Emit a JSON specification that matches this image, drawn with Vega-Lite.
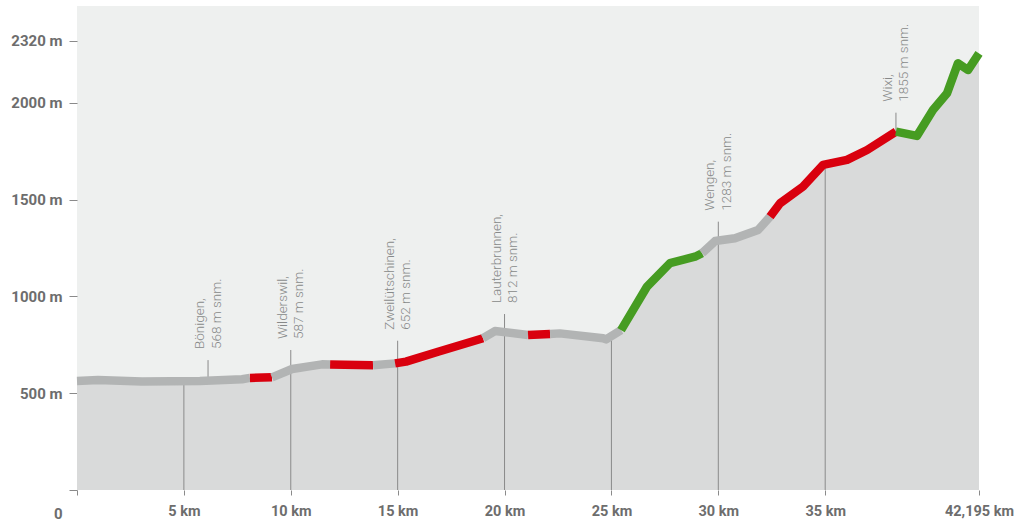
{
  "$schema": "https://vega.github.io/schema/vega-lite/v6.json",
  "width": 902,
  "height": 484,
  "autosize": {"type": "none"},
  "padding": {"left": 77, "top": 6, "right": 36, "bottom": 31},
  "background": "#ffffff",
  "config": {
    "view": {"stroke": null, "fill": "#eef0ef"},
    "font": "Roboto"
  },
  "datasets": {
    "profile": [
      {"km": 0, "elev": 563, "seg": 1, "kind": "grau"},
      {"km": 0.98, "elev": 568, "seg": 1, "kind": "grau"},
      {"km": 3.04, "elev": 561, "seg": 1, "kind": "grau"},
      {"km": 5.75, "elev": 563, "seg": 1, "kind": "grau"},
      {"km": 7.72, "elev": 572, "seg": 1, "kind": "grau"},
      {"km": 8.09, "elev": 579, "seg": 1, "kind": "grau"},
      {"km": 8.09, "elev": 579, "seg": 2, "kind": "rot"},
      {"km": 9.12, "elev": 582, "seg": 2, "kind": "rot"},
      {"km": 9.12, "elev": 582, "seg": 3, "kind": "grau"},
      {"km": 10.06, "elev": 625, "seg": 3, "kind": "grau"},
      {"km": 11.46, "elev": 649, "seg": 3, "kind": "grau"},
      {"km": 11.84, "elev": 648, "seg": 3, "kind": "grau"},
      {"km": 11.84, "elev": 648, "seg": 4, "kind": "rot"},
      {"km": 13.85, "elev": 644, "seg": 4, "kind": "rot"},
      {"km": 13.85, "elev": 644, "seg": 5, "kind": "grau"},
      {"km": 14.88, "elev": 654, "seg": 5, "kind": "grau"},
      {"km": 14.88, "elev": 654, "seg": 6, "kind": "rot"},
      {"km": 15.39, "elev": 663, "seg": 6, "kind": "rot"},
      {"km": 16.89, "elev": 714, "seg": 6, "kind": "rot"},
      {"km": 18.99, "elev": 784, "seg": 6, "kind": "rot"},
      {"km": 18.99, "elev": 784, "seg": 7, "kind": "grau"},
      {"km": 19.55, "elev": 821, "seg": 7, "kind": "grau"},
      {"km": 21.1, "elev": 801, "seg": 7, "kind": "grau"},
      {"km": 21.1, "elev": 801, "seg": 8, "kind": "rot"},
      {"km": 22.13, "elev": 806, "seg": 8, "kind": "rot"},
      {"km": 22.13, "elev": 806, "seg": 9, "kind": "grau"},
      {"km": 22.59, "elev": 809, "seg": 9, "kind": "grau"},
      {"km": 24.61, "elev": 784, "seg": 9, "kind": "grau"},
      {"km": 24.75, "elev": 778, "seg": 9, "kind": "grau"},
      {"km": 25.45, "elev": 826, "seg": 9, "kind": "grau"},
      {"km": 25.45, "elev": 826, "seg": 10, "kind": "grün"},
      {"km": 26.66, "elev": 1050, "seg": 10, "kind": "grün"},
      {"km": 27.74, "elev": 1172, "seg": 10, "kind": "grün"},
      {"km": 28.91, "elev": 1205, "seg": 10, "kind": "grün"},
      {"km": 29.24, "elev": 1223, "seg": 10, "kind": "grün"},
      {"km": 29.24, "elev": 1223, "seg": 11, "kind": "grau"},
      {"km": 29.85, "elev": 1286, "seg": 11, "kind": "grau"},
      {"km": 30.78, "elev": 1300, "seg": 11, "kind": "grau"},
      {"km": 31.86, "elev": 1343, "seg": 11, "kind": "grau"},
      {"km": 32.42, "elev": 1412, "seg": 11, "kind": "grau"},
      {"km": 32.42, "elev": 1412, "seg": 12, "kind": "rot"},
      {"km": 32.89, "elev": 1481, "seg": 12, "kind": "rot"},
      {"km": 33.96, "elev": 1567, "seg": 12, "kind": "rot"},
      {"km": 34.9, "elev": 1679, "seg": 12, "kind": "rot"},
      {"km": 36.02, "elev": 1705, "seg": 12, "kind": "rot"},
      {"km": 36.96, "elev": 1756, "seg": 12, "kind": "rot"},
      {"km": 38.31, "elev": 1851, "seg": 12, "kind": "rot"},
      {"km": 38.31, "elev": 1851, "seg": 13, "kind": "grün"},
      {"km": 39.29, "elev": 1829, "seg": 13, "kind": "grün"},
      {"km": 40.04, "elev": 1963, "seg": 13, "kind": "grün"},
      {"km": 40.7, "elev": 2049, "seg": 13, "kind": "grün"},
      {"km": 41.21, "elev": 2204, "seg": 13, "kind": "grün"},
      {"km": 41.68, "elev": 2169, "seg": 13, "kind": "grün"},
      {"km": 42.195, "elev": 2255, "seg": 13, "kind": "grün"}
    ],
    "rules": [
      {"km": 5, "top": 563, "bottom": 0},
      {"km": 6.13, "top": 671, "bottom": 563},
      {"km": 10, "top": 723, "bottom": 0},
      {"km": 15, "top": 771, "bottom": 0},
      {"km": 20, "top": 909, "bottom": 0},
      {"km": 25, "top": 790, "bottom": 0},
      {"km": 30, "top": 1386, "bottom": 0},
      {"km": 35, "top": 1680, "bottom": 0},
      {"km": 38.31, "top": 1949, "bottom": 1851}
    ],
    "places": [
      {"km": 6.13, "top": 671, "label": "Bönigen,\n568 m snm."},
      {"km": 10, "top": 723, "label": "Wilderswil,\n587 m snm."},
      {"km": 15, "top": 771, "label": "Zweilütschinen,\n652 m snm."},
      {"km": 20, "top": 909, "label": "Lauterbrunnen,\n812 m snm."},
      {"km": 30, "top": 1386, "label": "Wengen,\n1283 m snm."},
      {"km": 38.31, "top": 1949, "label": "Wixi,\n1855 m snm."}
    ]
  },
  "layer": [
    {
      "data": {"name": "profile"},
      "mark": {"type": "area", "color": "#d9dada", "opacity": 1},
      "encoding": {
        "x": {
          "field": "km", "type": "quantitative",
          "scale": {"domain": [0, 42.195], "nice": false, "zero": false},
          "axis": {
            "title": null,
            "values": [0, 5, 10, 15, 20, 25, 30, 35, 42.195],
            "labelExpr": "datum.value == 0 ? '' : (datum.value == 42.195 ? '42,195 km' : datum.value + ' km')",
            "domain": false,
            "grid": false,
            "ticks": true,
            "tickSize": 5,
            "tickColor": "#8a8a8a",
            "tickWidth": 1,
            "labelFont": "Roboto",
            "labelFontWeight": "bold",
            "labelFontSize": 14.5,
            "labelColor": "#6d6d6d",
            "labelPadding": 9,
            "labelFlush": false,
            "labelOverlap": false
          }
        },
        "y": {
          "field": "elev", "type": "quantitative",
          "stack": null,
          "scale": {"domain": [0, 2500], "nice": false},
          "axis": {
            "title": null,
            "values": [0, 500, 1000, 1500, 2000, 2320],
            "labelExpr": "datum.value == 0 ? '0' : datum.value + ' m'",
            "domain": false,
            "grid": false,
            "tickSize": 8,
            "tickColor": "#8a8a8a",
            "labelFont": "Roboto",
            "labelFontWeight": "bold",
            "labelFontSize": 15,
            "labelColor": "#6d6d6d",
            "labelPadding": 7,
            "labelOverlap": false,
            "labelOffset": {"condition": {"test": "datum.value == 0", "value": 23}, "value": 0}
          }
        }
      }
    },
    {
      "data": {"name": "rules"},
      "mark": {"type": "rule", "color": "#8a8a8a", "strokeWidth": 1},
      "encoding": {
        "x": {"field": "km", "type": "quantitative"},
        "y": {"field": "top", "type": "quantitative"},
        "y2": {"field": "bottom"}
      }
    },
    {
      "data": {"name": "profile"},
      "mark": {"type": "line", "strokeWidth": 8.5, "strokeCap": "butt", "strokeJoin": "round"},
      "encoding": {
        "x": {"field": "km", "type": "quantitative"},
        "y": {"field": "elev", "type": "quantitative"},
        "detail": {"field": "seg", "type": "nominal"},
        "color": {
          "field": "kind", "type": "nominal",
          "scale": {"domain": ["grau", "rot", "grün"], "range": ["#b2b4b4", "#d9000e", "#469c22"]},
          "legend": null
        }
      }
    },
    {
      "data": {"name": "places"},
      "mark": {
        "type": "text", "angle": 270, "align": "left", "baseline": "middle",
        "dx": 11, "dy": -8, "lineBreak": "\n", "lineHeight": 16.5,
        "font": "Roboto", "fontWeight": 300, "fontSize": 13.5, "color": "#878989"
      },
      "encoding": {
        "x": {"field": "km", "type": "quantitative"},
        "y": {"field": "top", "type": "quantitative"},
        "text": {"field": "label", "type": "nominal"}
      }
    }
  ]
}
